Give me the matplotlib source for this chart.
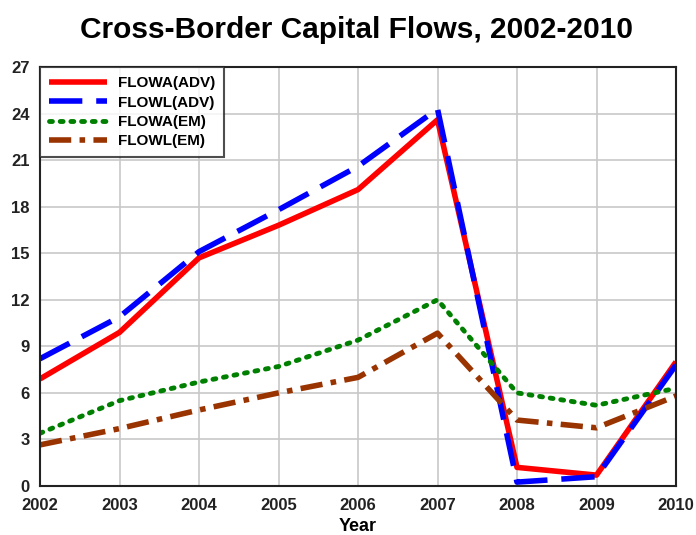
import matplotlib
matplotlib.use("Agg")
import matplotlib.pyplot as plt

years = [2002, 2003, 2004, 2005, 2006, 2007, 2008, 2009, 2010]
flowa_adv = [6.9, 9.9, 14.7, 16.8, 19.1, 23.6, 1.2, 0.7, 8.0]
flowl_adv = [8.2, 10.9, 15.1, 17.8, 20.6, 24.3, 0.25, 0.6, 7.8]
flowa_em = [3.4, 5.5, 6.7, 7.7, 9.4, 12.0, 6.0, 5.2, 6.3]
flowl_em = [2.65, 3.7, 4.9, 6.0, 7.0, 9.85, 4.25, 3.75, 5.8]
yticks = [0, 3, 6, 9, 12, 15, 18, 21, 24, 27]

plt.rcParams['font.family'] = ['Liberation Sans', 'DejaVu Sans']

fig = plt.figure(figsize=(6.96, 5.35), dpi=100)
ax = fig.add_axes([40/696, 49/535, 636/696, 419/535])

ax.plot(years, flowa_adv, color='#ff0000', lw=4, solid_capstyle='butt', label='FLOWA(ADV)')
ax.plot(years, flowl_adv, color='#0000ff', lw=4, dashes=(6, 2.5), label='FLOWL(ADV)')
ax.plot(years, flowa_em, color='#008000', lw=3.5, linestyle=(0, (0.6, 1.6)), dash_capstyle='round', label='FLOWA(EM)')
ax.plot(years, flowl_em, color='#993300', lw=4, linestyle=(0, (4, 1.5, 1, 1.5)), label='FLOWL(EM)')

ax.set_xlim(2002, 2010)
ax.set_ylim(0, 27)
ax.set_xticks(years)
ax.set_yticks(yticks)
ax.grid(True, color='#c8c8c8', lw=1.2)
ax.set_axisbelow(True)
for s in ax.spines.values():
    s.set_color('#222222')
    s.set_linewidth(1.5)
ax.tick_params(length=0, labelsize=12, colors='#222222')
ax.tick_params(axis='x', pad=8.5)
ax.tick_params(axis='y', pad=7.5)
for lbl in ax.get_xticklabels() + ax.get_yticklabels():
    lbl.set_fontweight('bold')

ax.set_xlabel('Year', fontsize=13, fontweight='bold', labelpad=3.5)
fig.suptitle('Cross-Border Capital Flows, 2002-2010', fontsize=21.5, fontweight='bold',
             x=0.5115, y=0.970)

leg = ax.legend(loc='upper left', bbox_to_anchor=(0, 1), borderaxespad=0, fancybox=False,
                frameon=True, fontsize=11, handlelength=3.8, labelspacing=0.35,
                borderpad=0.6, handletextpad=0.7)
leg.get_frame().set_edgecolor('#222222')
leg.get_frame().set_linewidth(1.5)
for t in leg.get_texts():
    t.set_fontweight('bold')

fig.savefig('out.png', dpi=100)
